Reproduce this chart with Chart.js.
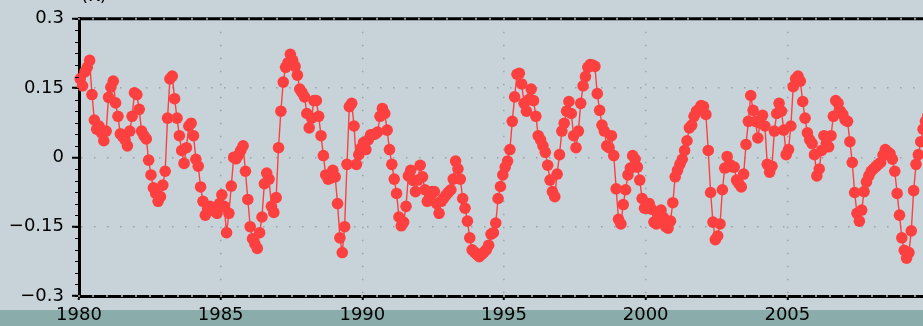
<!DOCTYPE html>
<html>
<head>
<meta charset="utf-8">
<script src="https://cdn.jsdelivr.net/npm/chart.js@4.4.0/dist/chart.umd.min.js"></script>
<style>
  html, body {
    margin: 0; padding: 0; width: 923px; height: 326px; overflow: hidden;
    background: linear-gradient(to bottom, #c8d3d9 0px, #c8d3d9 310px, #8aacaa 310px, #8aacaa 326px);
  }
  #wrap { position: relative; width: 960px; height: 326px; }
</style>
</head>
<body>
<div id="wrap"><canvas id="chart" width="960" height="326"></canvas></div>
<script>
// monthly anomaly (K)
const startYear = 1980;
const anomaly1980s = [
  0.17, 0.155, 0.185, 0.195, 0.21, 0.136, 0.081, 0.061, 0.068, 0.053, 0.036, 0.057,
  0.13, 0.152, 0.165, 0.118, 0.089, 0.051, 0.045, 0.038, 0.025, 0.057, 0.089, 0.14,
  0.136, 0.104, 0.057, 0.047, 0.04, -0.006, -0.038, -0.066, -0.078, -0.095, -0.085, -0.06,
  -0.03, 0.085, 0.17, 0.176, 0.127, 0.085, 0.047, 0.015, -0.013, 0.021, 0.068, 0.074,
  0.047, -0.004, -0.019, -0.064, -0.095, -0.125, -0.11, -0.106, -0.114, -0.117, -0.121, -0.1,
  -0.081, -0.106, -0.163, -0.121, -0.062, 0.0, -0.003, 0.005, 0.015, 0.025, -0.03, -0.091,
  -0.15, -0.176, -0.187, -0.197, -0.163, -0.129, -0.057, -0.034, -0.047, -0.106, -0.119, -0.087,
  0.021, 0.1, 0.163, 0.195, 0.205, 0.223, 0.21, 0.197, 0.178, 0.148, 0.14, 0.131,
  0.095, 0.064, 0.085, 0.123, 0.123, 0.089, 0.047, 0.004, -0.038, -0.047, -0.045, -0.028,
  -0.042, -0.1, -0.174, -0.206, -0.15, -0.015, 0.11, 0.117, 0.068, -0.015, 0.006, 0.02
];
const anomaly1990s = [
  0.032, 0.017, 0.038, 0.049, 0.049, 0.051, 0.055, 0.089, 0.106, 0.095, 0.059, 0.017,
  -0.015, -0.047, -0.078, -0.129, -0.148, -0.14, -0.106, -0.04, -0.028, -0.05, -0.074, -0.049,
  -0.017, -0.042, -0.07, -0.095, -0.085, -0.074, -0.074, -0.1, -0.121, -0.095, -0.088, -0.081,
  -0.075, -0.07, -0.047, -0.008, -0.025, -0.047, -0.089, -0.11, -0.138, -0.174, -0.2, -0.205,
  -0.21, -0.215, -0.21, -0.205, -0.2, -0.19, -0.166, -0.163, -0.142, -0.089, -0.063, -0.038,
  -0.021, -0.008, 0.017, 0.078, 0.131, 0.18, 0.182, 0.159, 0.117, 0.1, 0.125, 0.148,
  0.123, 0.089, 0.047, 0.038, 0.025, 0.011, -0.017, -0.049, -0.074, -0.085, -0.036, 0.006,
  0.057, 0.074, 0.1, 0.121, 0.095, 0.047, 0.021, 0.057, 0.117, 0.155, 0.175, 0.195,
  0.201, 0.2, 0.197, 0.138, 0.102, 0.07, 0.057, 0.025, 0.021, 0.047, 0.004, -0.068,
  -0.134, -0.144, -0.102, -0.07, -0.038, -0.023, 0.004, -0.004, -0.021, -0.049, -0.089, -0.11
];
const anomaly2000s = [
  -0.11, -0.1, -0.112, -0.14, -0.144, -0.123, -0.114, -0.13, -0.15, -0.153, -0.138, -0.098,
  -0.042, -0.028, -0.015, -0.004, 0.015, 0.036, 0.064, 0.07, 0.089, 0.1, 0.104, 0.112,
  0.11, 0.093, 0.015, -0.076, -0.14, -0.178, -0.17, -0.144, -0.07, -0.023, 0.002, -0.015,
  -0.02, -0.021, -0.049, -0.057, -0.064, -0.036, 0.028, 0.078, 0.134, 0.102, 0.078, 0.042,
  0.074, 0.091, 0.068, -0.015, -0.032, -0.019, 0.057, 0.095, 0.117, 0.1, 0.059, 0.006,
  0.017, 0.068, 0.153, 0.17, 0.176, 0.165, 0.121, 0.085, 0.053, 0.038, 0.03, 0.006,
  -0.04, -0.025, 0.015, 0.047, 0.03, 0.023, 0.047, 0.089, 0.123, 0.117, 0.1, 0.093,
  0.081, 0.078, 0.034, -0.011, -0.076, -0.121, -0.138, -0.114, -0.074, -0.053, -0.04, -0.03,
  -0.025, -0.02, -0.015, -0.011, 0.005, 0.017, 0.012, 0.008, -0.004, -0.03, -0.078, -0.125,
  -0.174, -0.201, -0.218, -0.206, -0.159, -0.072, -0.015, 0.006, 0.034, 0.061, 0.078, 0.09
];
const yTicks = [-0.3, -0.15, 0, 0.15, 0.3];
const xTicks = [1980, 1985, 1990, 1995, 2000, 2005];
const unitLabel = '(K)';

const anomaly = anomaly1980s.concat(anomaly1990s, anomaly2000s);
// each value sits in the middle of its month
const points = anomaly.map((v, i) => ({ x: startYear + (i + 0.5) / 12, y: v }));

const red = '#fc4040';
const fontFamily = '"DejaVu Sans", sans-serif';

function fmt(v) {
  const r = Math.round(v * 100) / 100;
  if (r === 0) return '0';
  return (r < 0 ? '\u2212' : '') + Math.abs(r);
}

const frame = {
  id: 'frame',
  afterDraw(chart) {
    const { ctx, chartArea: a, scales: { x, y } } = chart;
    ctx.save();
    // top border of the plot box
    ctx.strokeStyle = '#000';
    ctx.lineWidth = 3;
    ctx.beginPath();
    ctx.moveTo(a.left - 1, a.top);
    ctx.lineTo(a.right, a.top);
    ctx.stroke();
    // minor ticks on left axis
    ctx.lineWidth = 1;
    for (let v = -0.3; v <= 0.3001; v += 0.025) {
      const py = Math.round(y.getPixelForValue(v)) + 0.5;
      ctx.beginPath();
      ctx.moveTo(a.left - 4, py);
      ctx.lineTo(a.left, py);
      ctx.stroke();
    }
    // minor ticks along top and bottom axes
    ctx.fillStyle = '#8a9296';
    for (let t = 1980; t <= 2010; t += 0.5) {
      const px = Math.round(x.getPixelForValue(t));
      ctx.fillRect(px - 1, a.top - 1, 2, 2);
      ctx.fillRect(px - 1, a.bottom - 1, 2, 2);
    }
    // unit label, mostly above the picture edge
    ctx.fillStyle = '#000';
    ctx.font = '18px ' + fontFamily;
    ctx.textBaseline = 'alphabetic';
    ctx.textAlign = 'left';
    ctx.fillText(unitLabel, a.left + 2, 1);
    ctx.restore();
  }
};

new Chart(document.getElementById('chart'), {
  type: 'line',
  data: {
    datasets: [{
      data: points,
      borderColor: red,
      borderWidth: 1.4,
      backgroundColor: red,
      pointBackgroundColor: red,
      pointBorderWidth: 0,
      pointRadius: 5.8,
      tension: 0,
      clip: false
    }]
  },
  options: {
    responsive: false,
    animation: false,
    layout: { padding: { top: 13, right: 31, left: 0, bottom: 0 } },
    plugins: { legend: { display: false }, tooltip: { enabled: false }, title: { display: false } },
    scales: {
      x: {
        type: 'linear',
        min: 1980,
        max: 2010,
        afterFit: s => { s.height = 30; },
        afterBuildTicks: s => { s.ticks = xTicks.map(v => ({ value: v })); },
        ticks: {
          autoSkip: false,
          maxRotation: 0,
          padding: 5,
          color: '#000',
          font: { family: fontFamily, size: 18 },
          callback: v => String(v)
        },
        grid: {
          color: c => (c.tick && c.tick.value === 1980) ? 'rgba(0,0,0,0)' : '#9aa3a8',
          lineWidth: 1.5,
          tickColor: '#000',
          tickLength: 4,
          tickWidth: 2
        },
        border: { display: true, color: '#000', width: 3, dash: [1.5, 11.5] }
      },
      y: {
        min: -0.3,
        max: 0.3,
        afterFit: s => { s.width = 79; },
        afterBuildTicks: s => { s.ticks = yTicks.map(v => ({ value: v })); },
        ticks: {
          padding: 8,
          color: '#000',
          font: { family: fontFamily, size: 18 },
          callback: v => fmt(v)
        },
        grid: {
          color: c => (c.tick && Math.abs(c.tick.value) > 0.29) ? 'rgba(0,0,0,0)' : '#9aa3a8',
          lineWidth: 1.5,
          tickColor: '#000',
          tickLength: 7,
          tickWidth: 2
        },
        border: { display: true, color: '#000', width: 3, dash: [1.5, 11.5] }
      }
    }
  },
  plugins: [frame]
});
</script>
</body>
</html>
